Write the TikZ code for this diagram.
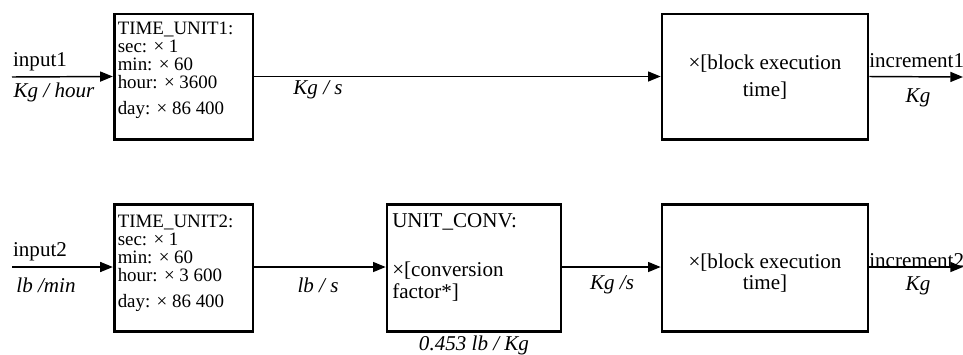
\documentclass[tikz,border=0pt]{standalone}
\usepackage{fontspec}
\setmainfont{Liberation Serif}
\usetikzlibrary{arrows.meta,positioning}

\begin{document}
\begin{tikzpicture}[x=0.75pt,y=-0.75pt,
  block/.style={draw, line width=2pt, inner sep=0pt},
  boxtext/.style={anchor=north west, align=left, inner sep=0pt, font=\fontsize{14.2}{13.4}\selectfont},
  lbl/.style={inner sep=0pt, font=\fontsize{15.8}{20}\selectfont},
  sig/.style={inner sep=0pt, font=\fontsize{15.8}{20}\selectfont\itshape},
  ptr/.style={-{Triangle[length=9.5pt,width=7.5pt]}, line width=1.1pt}
]
  \useasboundingbox (0,0) rectangle (963,354);
  % first chain
  \node[block, minimum width=104pt, minimum height=94pt] (tu1) at (183.5,76.5) {};
  \node[boxtext] (tu1txt) at (117.5,22) {TIME\_UNIT1:\\sec: × 1\\min: × 60\\hour: × 3600\\[6.5pt]day: × 86 400};
  \node[block, minimum width=154.5pt, minimum height=94pt] (bx1) at (765,76.5) {};
  \node[lbl, align=center] (bx1txt) at (765,77) {×[block execution\\time]};
  \coordinate (in1) at (12,77);
  \coordinate (out1) at (963,77);
  \draw[ptr] (in1) -- (tu1.west);
  \draw[ptr] (tu1.east) -- (bx1.west);
  \draw[ptr] (bx1.east) -- (out1);
  \node[lbl] (in1name) at (40,62) {input1};
  \node[sig] (in1unit) at (54,92) {Kg / hour};
  \node[sig] (mid1unit) at (318,90) {Kg / s};
  \node[lbl, anchor=west] (out1name) at (869,61) {increment1};
  \node[sig] (out1unit) at (918,98) {Kg};

  % second chain
  \node[block, minimum width=104pt, minimum height=95pt] (tu2) at (183.5,268) {};
  \node[boxtext] (tu2txt) at (117.5,215) {TIME\_UNIT2:\\sec: × 1\\min: × 60\\hour: × 3 600\\[6.5pt]day: × 86 400};
  \node[block, minimum width=130.5pt, minimum height=95pt] (uc) at (474,268) {};
  \node[lbl, anchor=north west, align=left, font=\fontsize{15.8}{15.8}\selectfont] (uctxt) at (392,213) {UNIT\_CONV:\\[21.5pt]×[conversion\\factor*]};
  \node[sig] (ucfac) at (474,345) {0.453 lb / Kg};
  \node[block, minimum width=154.5pt, minimum height=95pt] (bx2) at (765,268) {};
  \node[lbl, align=center, font=\fontsize{15.8}{15.8}\selectfont] (bx2txt) at (765,273) {×[block execution\\time]};
  \coordinate (in2) at (12,267);
  \coordinate (out2) at (963,267);
  \draw[ptr] (in2) -- (tu2.west |- in2);
  \draw[ptr] (tu2.east |- in2) -- (uc.west |- in2);
  \draw[ptr] (uc.east |- in2) -- (bx2.west |- in2);
  \draw[ptr] (bx2.east |- in2) -- (out2);
  \node[lbl] (in2name) at (40,252) {input2};
  \node[sig] (in2unit) at (46,285) {lb /min};
  \node[sig] (mid2unit) at (318,285) {lb / s};
  \node[sig] (mid3unit) at (612,285) {Kg /s};
  \node[lbl, anchor=west] (out2name) at (869,261) {increment2};
  \node[sig] (out2unit) at (918,286) {Kg};
\end{tikzpicture}
\end{document}
